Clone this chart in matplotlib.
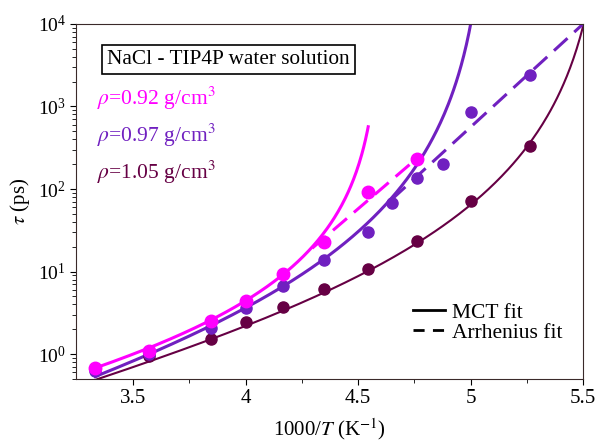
import matplotlib
matplotlib.use("Agg")
import matplotlib.pyplot as plt
import numpy as np
from matplotlib.lines import Line2D

plt.rcParams['font.family'] = 'Liberation Serif'
plt.rcParams['mathtext.fontset'] = 'stix'

# data: 1000/T and tau (ps) for the three densities
x_092 = [3.333, 3.571, 3.846, 4.000, 4.167, 4.348, 4.545, 4.762]
y_092 = [0.68, 1.1, 2.53, 4.43, 9.3, 23, 92, 230]

x_097 = [3.333, 3.571, 3.846, 4.000, 4.167, 4.348, 4.545, 4.651, 4.762, 4.878, 5.000, 5.263]
y_097 = [0.62, 1.0, 2.08, 3.64, 6.67, 14, 30, 68, 135, 199, 865, 2400]

x_105 = [3.571, 3.846, 4.000, 4.167, 4.348, 4.545, 4.762, 5.000, 5.263]
y_105 = [0.95, 1.52, 2.42, 3.68, 6.1, 10.7, 23.4, 72, 335]

labels = ["$\\rho$=0.92 g/cm$^3$", "$\\rho$=0.97 g/cm$^3$", "$\\rho$=1.05 g/cm$^3$"]
colors = ["#ff00ff", "#7020c0", "#660044"]

# MCT fit parameters: Tc (K), gamma, log10(A); range of 1000/T drawn
mct_tc = [217.0, 196.5, 178.0]
mct_gamma = [2.03, 2.9, 2.85]
mct_loga = [3.729, 5.573, 5.635]
mct_xmax = [4.545, 5.05, 5.5]

# Arrhenius fit parameters: log10(tau) = a + b*(1000/T)
arr_a = [-8.77, -9.75]
arr_b = [2.34, 2.5]
arr_x0 = [4.296, 4.65]
arr_x1 = [4.762, 5.5]

fig = plt.figure(figsize=(6, 4.42), dpi=100)
ax = fig.add_axes([0.127, 0.1425, 0.845, 0.8035])

xs_all = [x_092, x_097, x_105]
ys_all = [y_092, y_097, y_105]
lws = [2.2, 2.2, 1.5]
msz = [9, 8, 8]

for i in range(3):
    xf = np.linspace(3.333, mct_xmax[i], 300)
    T = 1000.0 / xf
    yf = 10 ** (mct_loga[i] - mct_gamma[i] * np.log10(T - mct_tc[i]))
    ax.plot(xf, yf, color=colors[i], lw=lws[i], zorder=2)

for i in range(2):
    xa = np.linspace(arr_x0[i], arr_x1[i], 50)
    ax.plot(xa, 10 ** (arr_a[i] + arr_b[i] * xa), color=colors[i], lw=2.2,
            dashes=(6, 3), zorder=2)

for i in [2, 1, 0]:
    ax.plot(xs_all[i], ys_all[i], "o", color=colors[i], ms=msz[i], zorder=3)

ax.set_yscale("log")
ax.set_xlim(3.248, 5.5)
ax.set_ylim(0.5, 1e4)
ax.set_xticks([3.5, 4, 4.5, 5, 5.5])
ax.set_xticklabels(["3.5", "4", "4.5", "5", "5.5"])
ax.set_xticks([3.75, 4.25, 4.75, 5.25], minor=True)
ax.tick_params(axis="x", which="major", labelsize=15)
ax.tick_params(axis="y", which="major", labelsize=14)
ax.tick_params(axis="both", which="both", direction="out")
ax.tick_params(axis="both", which="major", length=4)
ax.tick_params(axis="both", which="minor", length=3)
for s in ax.spines.values():
    s.set_color("#3a2a2a")

ax.set_xlabel("1000/$T$ (K$^{-1}$)", fontsize=15, labelpad=6)
ax.set_ylabel("$\\tau$ (ps)", fontsize=15)

ax.text(0.30, 0.90, "NaCl - TIP4P water solution", transform=ax.transAxes,
        ha="center", va="center", fontsize=15.3,
        bbox=dict(boxstyle="square,pad=0.25", fc="white", ec="black", lw=1.2))
ypos = [0.79, 0.687, 0.583]
for i in range(3):
    ax.text(0.041, ypos[i], labels[i], transform=ax.transAxes, color=colors[i],
            fontsize=15.5, ha="left", va="center")

handles = [Line2D([], [], color="black", lw=2),
           Line2D([], [], color="black", lw=2, dashes=(4, 3))]
ax.legend(handles, ["MCT fit", "Arrhenius fit"], loc="upper left",
          bbox_to_anchor=(0.665, 0.215), frameon=False, fontsize=15.5,
          borderpad=0, borderaxespad=0, handlelength=1.45, handletextpad=0.35,
          labelspacing=0.0)

fig.savefig("out.png", dpi=100)
